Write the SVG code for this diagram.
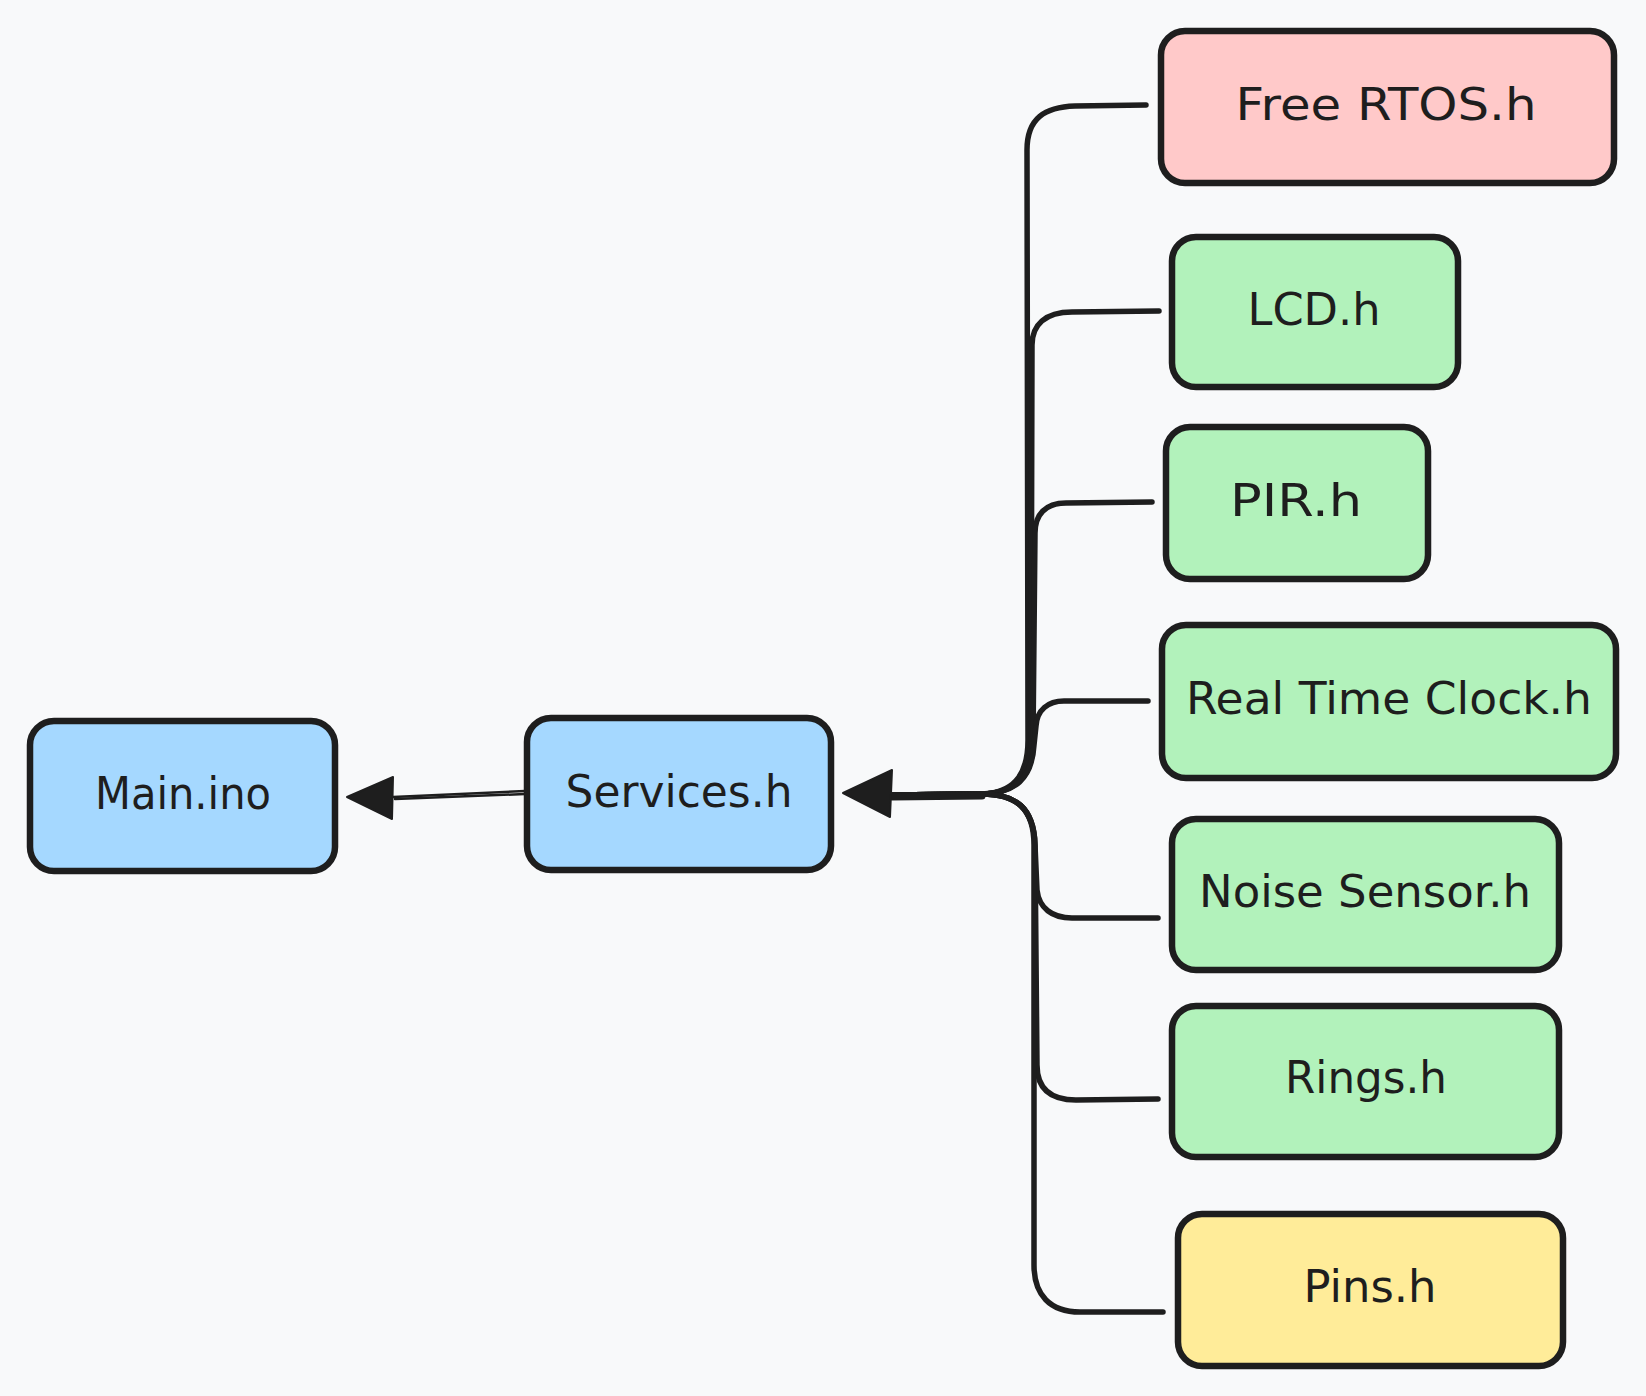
<svg xmlns="http://www.w3.org/2000/svg" width="1646" height="1396" viewBox="0 0 1646 1396">
<style>
.box{stroke:#1e1e1e;stroke-width:6.5;stroke-linejoin:round}
.blue{fill:#a5d8ff}.red{fill:#ffc9c9}.green{fill:#b2f2bb}.yellow{fill:#ffec99}
.lbl{font-family:"DejaVu Sans",sans-serif;font-size:44px;fill:#1e1e1e;text-anchor:middle}
.conn{fill:none;stroke:#1e1e1e;stroke-width:5.5;stroke-linecap:round;stroke-linejoin:round}
.thin{fill:none;stroke:#1e1e1e;stroke-width:2.5;stroke-linecap:round}
.head{fill:#1e1e1e;stroke:#1e1e1e;stroke-width:2;stroke-linejoin:round}
</style>
<rect width="1646" height="1396" fill="#f8f9fa"/>
<g id="connectors">
<path class="conn" d="M1146,105 L1075,106 C1045,107 1027,118 1027,150 L1028,740 C1028,778 1011,793 982,794 L892,795"/>
<path class="conn" d="M1159,311 L1072,312 C1045,312 1032,325 1032,345 L1031,740 C1031,778 1014,793 982,794 L892,795"/>
<path class="conn" d="M1152,502 L1066,503 C1045,503 1035,515 1035,533 L1033,742 C1033,778 1015,793 982,794 L892,795"/>
<path class="conn" d="M1148,701 L1064,701 C1048,701 1037,710 1036,726 L1034,745 C1032,779 1015,793 982,794 L892,795"/>
<path class="conn" d="M1158,918 L1072,918 C1052,918 1039,908 1037,890 L1035,845 C1034,808 1016,794 982,794 L892,795"/>
<path class="conn" d="M1158,1099 L1076,1100 C1052,1100 1037,1090 1037,1065 L1035,845 C1034,808 1016,794 982,794 L892,795"/>
<path class="conn" d="M1163,1312 L1080,1312 C1050,1312 1034,1295 1034,1265 L1034,845 C1034,808 1016,794 982,794 L892,795"/>
<path class="conn" d="M982,796 L892,797" style="stroke-width:7"/>
<polygon class="head" points="843,793 892,770 890,817"/>
<path class="thin" d="M525,791 L393,797"/>
<path class="thin" d="M525,794 L395,799"/>
<polygon class="head" points="347,797 393,777 392,819"/>
</g>
<g id="main-ino">
<rect class="box blue" x="30" y="721" width="305" height="150" rx="24"/>
<text class="lbl" x="183" y="809" textLength="176" lengthAdjust="spacingAndGlyphs">Main.ino</text>
</g>
<g id="services-h">
<rect class="box blue" x="527" y="718" width="304" height="152" rx="24"/>
<text class="lbl" x="679" y="807" textLength="227" lengthAdjust="spacingAndGlyphs">Services.h</text>
</g>
<g id="freertos-h">
<rect class="box red" x="1161" y="31" width="453" height="152" rx="24"/>
<text class="lbl" x="1386" y="120" textLength="301" lengthAdjust="spacingAndGlyphs">Free RTOS.h</text>
</g>
<g id="lcd-h">
<rect class="box green" x="1172" y="237" width="286" height="150" rx="24"/>
<text class="lbl" x="1314" y="325" textLength="133" lengthAdjust="spacingAndGlyphs">LCD.h</text>
</g>
<g id="pir-h">
<rect class="box green" x="1166" y="427" width="262" height="152" rx="24"/>
<text class="lbl" x="1296" y="516" textLength="132" lengthAdjust="spacingAndGlyphs">PIR.h</text>
</g>
<g id="rtc-h">
<rect class="box green" x="1162" y="625" width="454" height="153" rx="24"/>
<text class="lbl" x="1389" y="714" textLength="406" lengthAdjust="spacingAndGlyphs">Real Time Clock.h</text>
</g>
<g id="noise-h">
<rect class="box green" x="1172" y="819" width="387" height="151" rx="24"/>
<text class="lbl" x="1365" y="907" textLength="332" lengthAdjust="spacingAndGlyphs">Noise Sensor.h</text>
</g>
<g id="rings-h">
<rect class="box green" x="1172" y="1006" width="387" height="151" rx="24"/>
<text class="lbl" x="1366" y="1093" textLength="162" lengthAdjust="spacingAndGlyphs">Rings.h</text>
</g>
<g id="pins-h">
<rect class="box yellow" x="1178" y="1214" width="385" height="152" rx="24"/>
<text class="lbl" x="1370" y="1302" textLength="133" lengthAdjust="spacingAndGlyphs">Pins.h</text>
</g>
</svg>
